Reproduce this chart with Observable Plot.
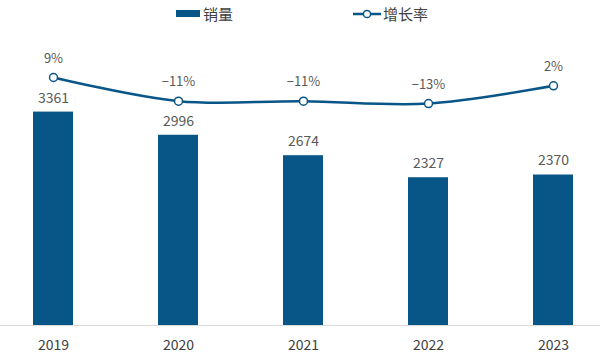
<!DOCTYPE html>
<html>
<head>
<meta charset="utf-8">
<script src="https://cdn.jsdelivr.net/npm/d3@7"></script>
<script src="https://cdn.jsdelivr.net/npm/@observablehq/plot@0.6"></script>
<style>
  body { margin: 0; background: #fff; font-family: "Noto Sans CJK SC", "Liberation Sans", sans-serif; }
  #wrap { position: relative; width: 600px; height: 356px; overflow: hidden; }
  #legend { position: relative; height: 28px; width: 600px; }
  .lg { position: absolute; font-size: 15px; color: #404040; top: 4px; line-height: 20px; }
</style>
</head>
<body>
<div id="wrap">
  <div id="legend">
    <div style="position:absolute;left:176px;top:10px;width:24px;height:7px;background:#085687"></div>
    <div class="lg" style="left:203px">销量</div>
    <svg style="position:absolute;left:352px;top:7px" width="30" height="14">
      <line x1="1" y1="7" x2="29" y2="7" stroke="#085687" stroke-width="2.5"/>
      <circle cx="15" cy="7" r="3.6" fill="#fff" stroke="#085687" stroke-width="1.5"/>
    </svg>
    <div class="lg" style="left:383px">增长率</div>
  </div>
  <div id="chart"></div>
</div>
<script>
const years = ["2019", "2020", "2021", "2022", "2023"];
const sales = [3361, 2996, 2674, 2327, 2370];
const growth = [9, -11, -11, -13, 2];
const growthLabels = ["9%", "\u221211%", "\u221211%", "\u221213%", "2%"];

const color = "#085687";
// map growth % onto the bar value axis so the line sits above bars
const toAxis = p => 3738 + 18.64 * p;

const bars = years.map((y, i) => ({year: y, sales: sales[i]}));
const line = years.map((y, i) => ({year: y, g: toAxis(growth[i]), label: growthLabels[i]}));

const chart = Plot.plot({
  width: 600,
  height: 328,
  marginTop: 43,
  marginBottom: 31,
  marginLeft: 0,
  marginRight: 0,
  style: {fontFamily: '"Noto Sans CJK SC", "Liberation Sans", sans-serif', background: "#fff"},
  x: {type: "band", domain: years, range: [-10, 615], paddingInner: 0.68, paddingOuter: 0.34, label: null},
  y: {domain: [0, 4000], axis: null},
  marks: [
    Plot.barY(bars, {x: "year", y: "sales", fill: color}),
    Plot.ruleY([0], {stroke: "#d9d9d9", strokeWidth: 1.2}),
    Plot.axisX({tickSize: 0, tickPadding: 15, fontSize: 14, color: "#404040", label: null}),
    Plot.text(bars, {x: "year", y: "sales", text: d => String(d.sales), dy: -14, fontSize: 14, fill: "#595959"}),
    Plot.line(line, {x: "year", y: "g", stroke: color, strokeWidth: 2.5, curve: "catmull-rom"}),
    Plot.dot(line, {x: "year", y: "g", r: 4, fill: "#fff", stroke: color, strokeWidth: 1.5}),
    Plot.text(line, {x: "year", y: "g", text: "label", dy: -19, fontSize: 13, fill: "#595959"})
  ]
});
document.getElementById("chart").appendChild(chart);
</script>
</body>
</html>
